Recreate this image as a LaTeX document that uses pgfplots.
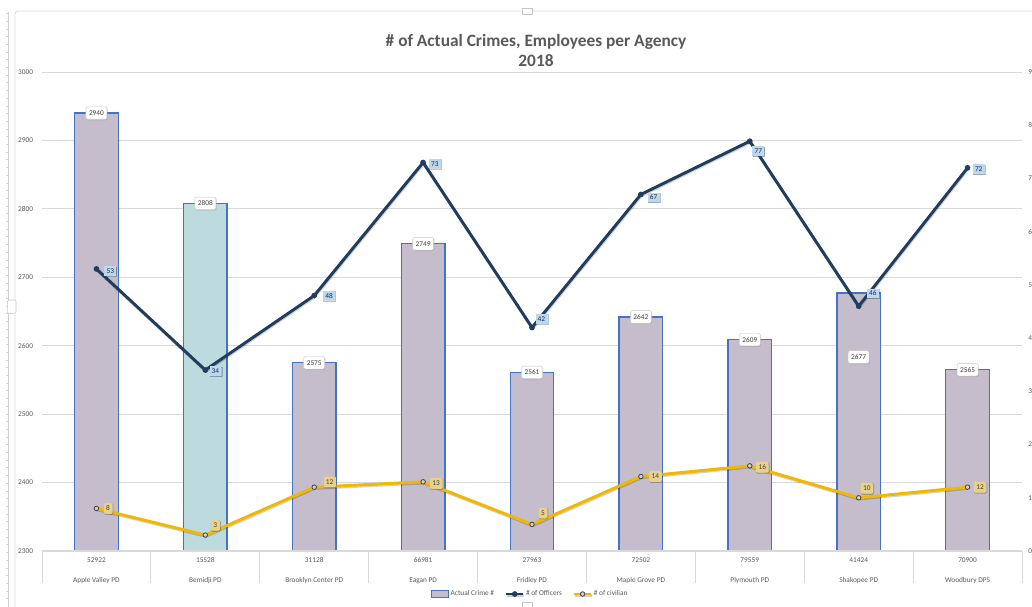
\documentclass[border=0pt]{standalone}
\usepackage{fontspec}
\setmainfont{Carlito}
\usepackage{pgfplots}
\pgfplotsset{compat=1.18}
\usepackage{pgfplotstable}
\usetikzlibrary{shadows}

\definecolor{barfill}{HTML}{C5BDCB}
\definecolor{bemfill}{HTML}{BDDBDF}
\definecolor{barline}{HTML}{4472C4}
\definecolor{navy}{HTML}{1F3D5F}
\definecolor{gold}{HTML}{F2B800}
\definecolor{offlab}{HTML}{BDD7EE}
\definecolor{civlab}{HTML}{E8D28A}
\definecolor{gridgray}{HTML}{D9D9D9}
\definecolor{textgray}{HTML}{595959}
\definecolor{labtext}{HTML}{404040}

% crimes per agency (x = agency index, dx/dy = label offsets in pt)
\pgfplotstableread{
x crimes dy
0 2940 0
2 2575 0
3 2749 0
4 2561 0
5 2642 0
6 2609 0
7 2677 -48
8 2565 0
}\crimetab

\pgfplotstableread{
x off dx dy
0 53 5.8 -1.5
1 34 3.0 -0.8
2 48 6.5 0
3 73 4.3 -0.8
4 42 2.5 6.5
5 67 5.0 -2.2
6 77 1.8 -7.5
7 46 6.0 9.7
8 72 3.8 -1.0
}\offtab

\pgfplotstableread{
x civ dx dy
0 8 5.0 0
1 3 3.8 7.3
2 12 6.5 4.0
3 13 4.7 -1.2
4 5 4.5 8.6
5 14 5.8 0
6 16 4.3 -1.0
7 10 1.0 7.1
8 12 4.3 0
}\civtab

\tikzset{
  tinyfont/.style={font=\fontsize{5.5}{6}\selectfont},
  barlabel/.style={tinyfont, text=labtext, fill=white, draw=gray!45, line width=0.3pt,
    rounded corners=1.5pt, inner xsep=2.3pt, inner ysep=2.9pt, text height=3.7pt, text depth=0pt,
    drop shadow={shadow xshift=0.5pt, shadow yshift=-0.7pt, opacity=0.35}},
  offlabel/.style={tinyfont, text=navy!80!black, fill=offlab, inner xsep=1.6pt, inner ysep=1.7pt,
    text height=3.7pt, text depth=0pt,
    drop shadow={shadow xshift=0.4pt, shadow yshift=-0.5pt, opacity=0.3}},
  civlabel/.style={tinyfont, text=labtext, fill=civlab, rounded corners=1pt, inner xsep=2pt, inner ysep=2.2pt,
    text height=3.7pt, text depth=0pt,
    drop shadow={shadow xshift=0.4pt, shadow yshift=-0.5pt, opacity=0.3}},
}

\pgfplotsset{
  short line legend/.style={legend image code/.code={%
    \draw[mark repeat=2, mark phase=2, ##1] plot coordinates {(0pt,0pt) (6.4pt,0pt) (12.75pt,0pt)};}},
  box legend/.style={legend image code/.code={%
    \draw[##1] (0pt,-2.6pt) rectangle (12.75pt,2.6pt);}},
}

\begin{document}
\begin{tikzpicture}
\useasboundingbox (0,0) rectangle (774pt,-455.25pt);
\clip (0,0) rectangle (774pt,-455.25pt);

% chart frame and selection ruler
\draw[gray!30, line width=0.6pt, rounded corners=2pt] (11.25pt,-470pt) -- (11.25pt,-8.25pt) -- (800pt,-8.25pt);
\draw[gray!35, line width=0.4pt] (6.4pt,-9pt) -- (6.4pt,-460pt);
\foreach \k in {0,...,76} {
  \draw[gray!35, line width=0.3pt] (4.6pt,-10pt-\k*5.775pt) -- (6.4pt,-10pt-\k*5.775pt);
}
\draw[gray!45, fill=white, rounded corners=1pt, line width=0.4pt] (5.5pt,-225pt) rectangle (12pt,-235pt);
\draw[gray!45, fill=white, line width=0.4pt] (392pt,-6pt) rectangle (399.5pt,-10.5pt);
\draw[gray!45, fill=white, line width=0.4pt] (392pt,-452pt) rectangle (399.5pt,-458pt);

% title
\node[font=\bfseries\fontsize{13}{15}\selectfont, text=textgray, align=center] at (402pt,-37.5pt)
  {\# of Actual Crimes, Employees per Agency\\2018};

% primary axis: crimes
\begin{axis}[
  at={(31.5pt,-413.25pt)}, anchor=south west,
  scale only axis, width=735pt, height=359.25pt,
  xmin=-0.5, xmax=8.5, ymin=2300, ymax=3000,
  ybar, bar width=0.4,
  axis x line*=bottom, axis y line*=left,
  x axis line style={draw=gridgray, line width=0.75pt},
  y axis line style={draw=none},
  ytick={2300,2400,...,3000},
  ymajorgrids, grid style={draw=gridgray, line width=0.75pt},
  major tick length=0pt,
  xtick={0,...,8},
  minor xtick={-0.5,0.5,...,8.5},
  minor tick length=24pt, tick align=outside,
  minor x tick style={draw=gridgray, line width=0.75pt},
  xticklabels={{52922\\[2.5pt]Apple Valley PD},{15528\\[2.5pt]Bemidji PD},{31128\\[2.5pt]Brooklyn Center PD},
    {66981\\[2.5pt]Eagan PD},{27963\\[2.5pt]Fridley PD},{72502\\[2.5pt]Maple Grove PD},{79559\\[2.5pt]Plymouth PD},
    {41424\\[2.5pt]Shakopee PD},{70900\\[2.5pt]Woodbury DPS}},
  xticklabel style={anchor=north, inner sep=0pt, yshift=-5pt, align=center,
    font=\fontsize{5.5}{12}\selectfont, text=textgray},
  yticklabel style={anchor=east, inner sep=0pt, xshift=-6.5pt,
    font=\fontsize{5.5}{6}\selectfont, text=textgray},
  /pgf/number format/assume math mode=true,
  /pgf/number format/1000 sep={},
]
\addplot[bar shift=0pt, fill=barfill, draw=barline, line width=1pt,
  nodes near coords,
  visualization depends on={\thisrow{dy} \as \labdy},
  every node near coord/.append style={barlabel, anchor=center, yshift=\labdy}]
  table[x=x, y=crimes] {\crimetab};
\addplot[bar shift=0pt, fill=bemfill, draw=barline, line width=1pt,
  nodes near coords,
  every node near coord/.append style={barlabel, anchor=center}]
  coordinates {(1,2808)};
\end{axis}

% secondary axis: employees
\begin{axis}[
  at={(31.5pt,-413.25pt)}, anchor=south west,
  scale only axis, width=735pt, height=359.25pt,
  xmin=-0.5, xmax=8.5, ymin=0, ymax=90,
  axis x line*=bottom, xtick=\empty,
  x axis line style={draw=gridgray, line width=0.9pt},
  axis y line*=right, y axis line style={draw=none},
  ytick={0,10,...,90}, major tick length=0pt,
  yticklabel style={anchor=west, inner sep=0pt, xshift=4.5pt,
    font=\fontsize{5.5}{6}\selectfont, text=textgray},
  /pgf/number format/assume math mode=true,
  legend style={at={(0.498,-0.0898)}, anchor=center, draw=none, fill=none,
    legend columns=-1, font=\fontsize{5.5}{6}\selectfont, text=textgray,
    inner sep=0pt, nodes={inner sep=1pt},
    /tikz/every even column/.append style={column sep=7pt}},
  legend cell align=left,
]
\addlegendimage{box legend, fill=barfill, draw=barline, line width=0.8pt}
\addlegendentry{Actual Crime \#}

\addplot[navy, line width=2.2pt, mark=*, mark size=1.9pt,
  mark options={solid, fill=navy, draw=navy, line width=0.4pt},
  preaction={draw=black, opacity=0.18, transform canvas={xshift=0.4pt, yshift=-0.9pt}},
  short line legend,
  nodes near coords,
  visualization depends on={\thisrow{dx} \as \labdx},
  visualization depends on={\thisrow{dy} \as \labdy},
  every node near coord/.append style={offlabel, anchor=west, xshift=\labdx, yshift=\labdy}]
  table[x=x, y=off] {\offtab};
\addlegendentry{\# of Officers}

\addplot[gold, line width=2.2pt, mark=*, mark size=1.7pt,
  mark options={solid, fill=gray!35, draw=black!75, line width=0.6pt},
  preaction={draw=black, opacity=0.18, transform canvas={xshift=0.4pt, yshift=-0.9pt}},
  short line legend,
  nodes near coords,
  visualization depends on={\thisrow{dx} \as \labdx},
  visualization depends on={\thisrow{dy} \as \labdy},
  every node near coord/.append style={civlabel, anchor=west, xshift=\labdx, yshift=\labdy}]
  table[x=x, y=civ] {\civtab};
\addlegendentry{\# of civilian}
\end{axis}
\end{tikzpicture}
\end{document}
